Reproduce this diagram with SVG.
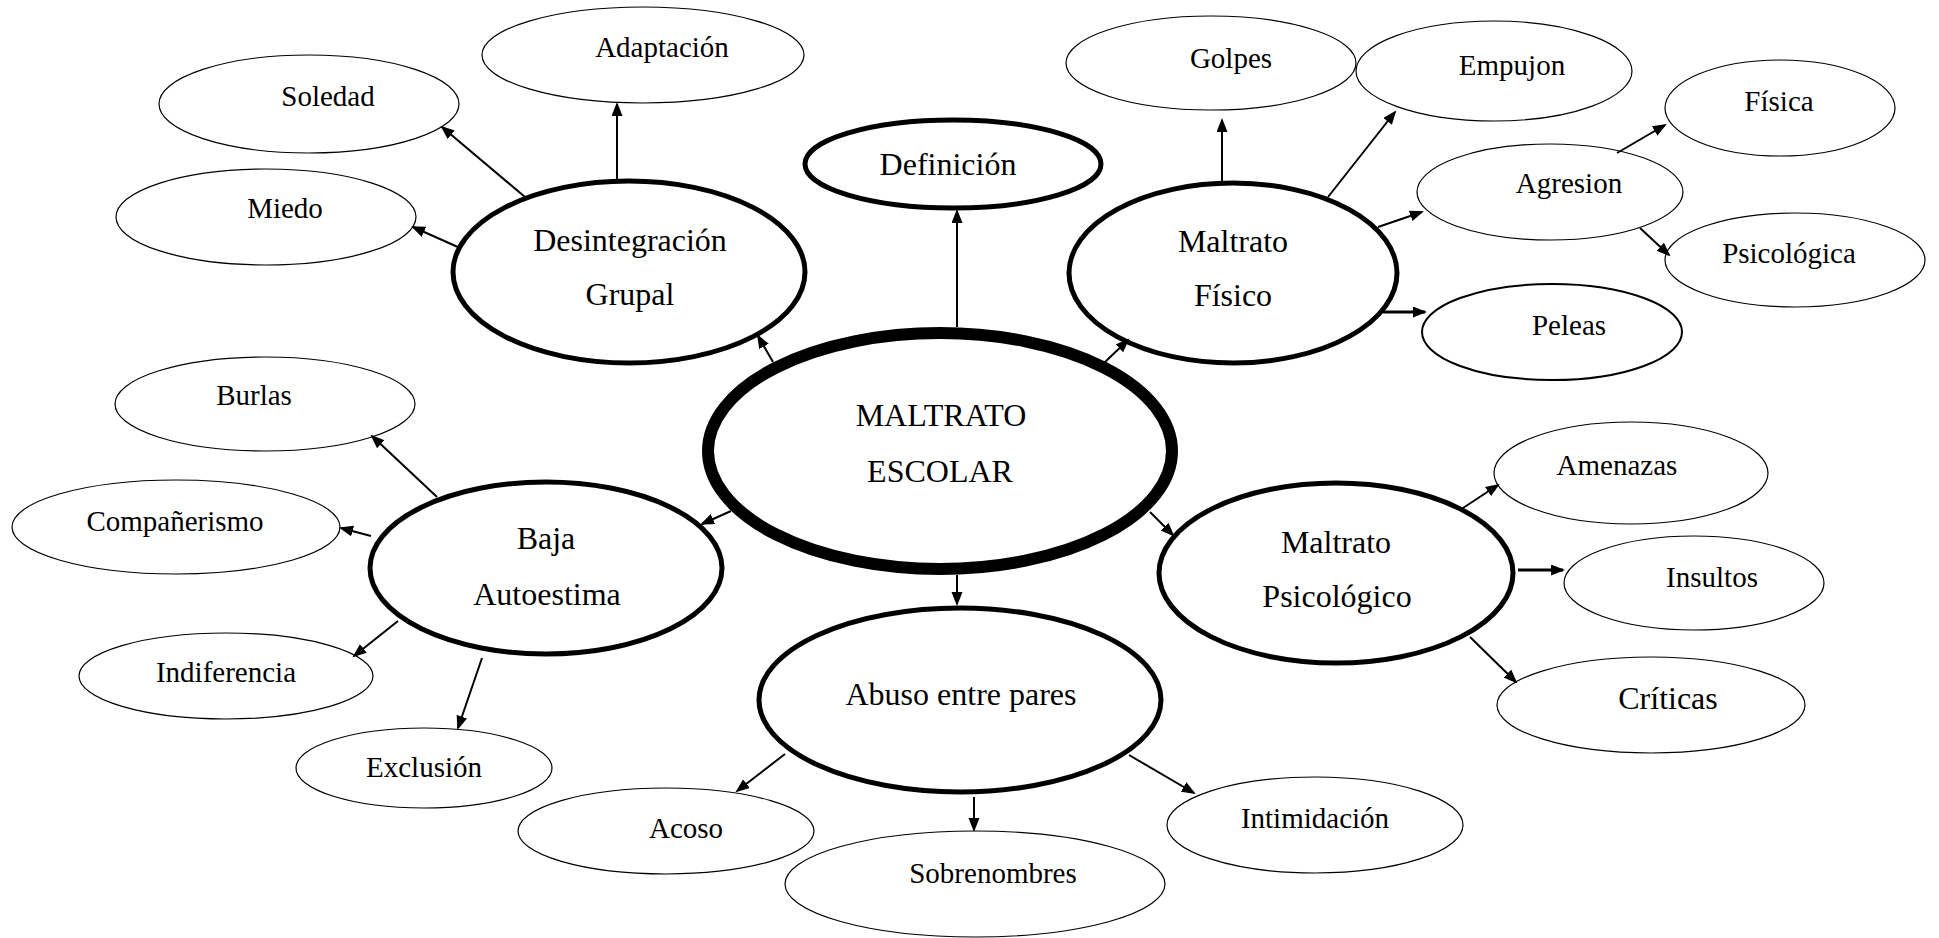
<svg xmlns="http://www.w3.org/2000/svg" width="1939" height="938" viewBox="0 0 1939 938">
<style>
.thin{fill:#fff;stroke:#000;stroke-width:1.2}
.bold{fill:#fff;stroke:#000;stroke-width:5}
.main{fill:#fff;stroke:#000;stroke-width:12}
text{font-family:"Liberation Serif","Times New Roman",serif;fill:#000;text-anchor:middle}
.s{font-size:29px}
.b{font-size:32px}
#connectors line{stroke:#000;stroke-width:2;marker-end:url(#ah)}
</style>
<defs>
<marker id="ah" markerUnits="userSpaceOnUse" markerWidth="16" markerHeight="12" refX="12" refY="5.5" orient="auto">
<path d="M0,0 L14,5.5 L0,11 z" fill="#000"/>
</marker>
</defs>
<rect width="1939" height="938" fill="#fff"/>
<g id="n-adaptacion"><ellipse class="thin" cx="643" cy="55" rx="161" ry="48"/><text class="s" x="662" y="57">Adaptación</text></g>
<g id="n-soledad"><ellipse class="thin" cx="309" cy="104" rx="150" ry="49"/><text class="s" x="328" y="106">Soledad</text></g>
<g id="n-miedo"><ellipse class="thin" cx="266" cy="217" rx="150" ry="48"/><text class="s" x="285" y="218">Miedo</text></g>
<g id="n-desintegracion"><ellipse class="bold" cx="629" cy="272" rx="176" ry="91"/><text class="b" x="630" y="251">Desintegración</text><text class="b" x="630" y="305">Grupal</text></g>
<g id="n-definicion"><ellipse class="bold" cx="953" cy="164" rx="148" ry="44"/><text class="b" x="948" y="175">Definición</text></g>
<g id="n-golpes"><ellipse class="thin" cx="1211" cy="63" rx="145" ry="47"/><text class="s" x="1231" y="68">Golpes</text></g>
<g id="n-empujon"><ellipse class="thin" cx="1494" cy="71" rx="138" ry="50"/><text class="s" x="1512" y="75">Empujon</text></g>
<g id="n-fisica"><ellipse class="thin" cx="1780" cy="108" rx="115" ry="48"/><text class="s" x="1779" y="111">Física</text></g>
<g id="n-agresion"><ellipse class="thin" cx="1550" cy="192" rx="133" ry="48"/><text class="s" x="1569" y="193">Agresion</text></g>
<g id="n-psicologica"><ellipse class="thin" cx="1795" cy="260" rx="130" ry="47"/><text class="s" x="1789" y="263">Psicológica</text></g>
<g id="n-peleas"><ellipse class="thin" style="stroke-width:2" cx="1552" cy="332" rx="130" ry="48"/><text class="s" x="1569" y="335">Peleas</text></g>
<g id="n-maltrato-fisico"><ellipse class="bold" cx="1233" cy="273" rx="164" ry="90"/><text class="b" x="1233" y="252">Maltrato</text><text class="b" x="1233" y="306">Físico</text></g>
<g id="n-maltrato-escolar"><ellipse class="main" cx="940" cy="451" rx="232" ry="118"/><text class="b" x="941" y="426">MALTRATO</text><text class="b" x="940" y="482">ESCOLAR</text></g>
<g id="n-burlas"><ellipse class="thin" cx="265" cy="404" rx="150" ry="47"/><text class="s" x="254" y="405">Burlas</text></g>
<g id="n-companerismo"><ellipse class="thin" cx="176" cy="527" rx="164" ry="47"/><text class="s" x="175" y="531">Compañerismo</text></g>
<g id="n-baja"><ellipse class="bold" cx="546" cy="568" rx="176" ry="86"/><text class="b" x="546" y="549">Baja</text><text class="b" x="547" y="605">Autoestima</text></g>
<g id="n-indiferencia"><ellipse class="thin" cx="226" cy="676" rx="147" ry="43"/><text class="s" x="226" y="682">Indiferencia</text></g>
<g id="n-exclusion"><ellipse class="thin" cx="424" cy="768" rx="128" ry="40"/><text class="s" x="424" y="777">Exclusión</text></g>
<g id="n-acoso"><ellipse class="thin" cx="666" cy="831" rx="148" ry="43"/><text class="s" x="686" y="838">Acoso</text></g>
<g id="n-maltrato-psicologico"><ellipse class="bold" cx="1336" cy="573" rx="177" ry="90"/><text class="b" x="1336" y="553">Maltrato</text><text class="b" x="1337" y="607">Psicológico</text></g>
<g id="n-amenazas"><ellipse class="thin" cx="1631" cy="473" rx="137" ry="51"/><text class="s" x="1617" y="475">Amenazas</text></g>
<g id="n-insultos"><ellipse class="thin" cx="1694" cy="583" rx="130" ry="47"/><text class="s" x="1712" y="587">Insultos</text></g>
<g id="n-criticas"><ellipse class="thin" cx="1651" cy="705" rx="154" ry="48"/><text class="b" x="1668" y="709">Críticas</text></g>
<g id="n-abuso"><ellipse class="bold" cx="960" cy="700" rx="201" ry="92"/><text class="b" x="961" y="705">Abuso entre pares</text></g>
<g id="n-sobrenombres"><ellipse class="thin" cx="975" cy="884" rx="190" ry="53"/><text class="s" x="993" y="883">Sobrenombres</text></g>
<g id="n-intimidacion"><ellipse class="thin" cx="1315" cy="825" rx="148" ry="48"/><text class="s" x="1315" y="828">Intimidación</text></g>
<g id="connectors">
<line x1="957" y1="327" x2="957" y2="211"/>
<line x1="773" y1="362" x2="758" y2="336"/>
<line x1="1105" y1="362" x2="1128" y2="340"/>
<line x1="731" y1="511" x2="702" y2="524"/>
<line x1="1150" y1="512" x2="1173" y2="535"/>
<line x1="957" y1="575" x2="957" y2="604"/>
<line x1="617" y1="180" x2="617" y2="104"/>
<line x1="525" y1="197" x2="442" y2="127"/>
<line x1="460" y1="248" x2="413" y2="227"/>
<line x1="1222" y1="182" x2="1222" y2="120"/>
<line x1="1328" y1="197" x2="1395" y2="112"/>
<line x1="1378" y1="227" x2="1422" y2="212"/>
<line x1="1383" y1="312" x2="1425" y2="312" style="stroke-width:3"/>
<line x1="1617" y1="153" x2="1665" y2="125"/>
<line x1="1640" y1="228" x2="1669" y2="255"/>
<line x1="437" y1="497" x2="372" y2="436"/>
<line x1="371" y1="536" x2="341" y2="528"/>
<line x1="398" y1="621" x2="354" y2="656"/>
<line x1="482" y1="658" x2="458" y2="728"/>
<line x1="1463" y1="508" x2="1498" y2="485"/>
<line x1="1518" y1="570" x2="1563" y2="570" style="stroke-width:3"/>
<line x1="1470" y1="637" x2="1516" y2="682"/>
<line x1="785" y1="754" x2="737" y2="791"/>
<line x1="974" y1="797" x2="974" y2="830"/>
<line x1="1129" y1="755" x2="1194" y2="793"/>
</g>
</svg>
